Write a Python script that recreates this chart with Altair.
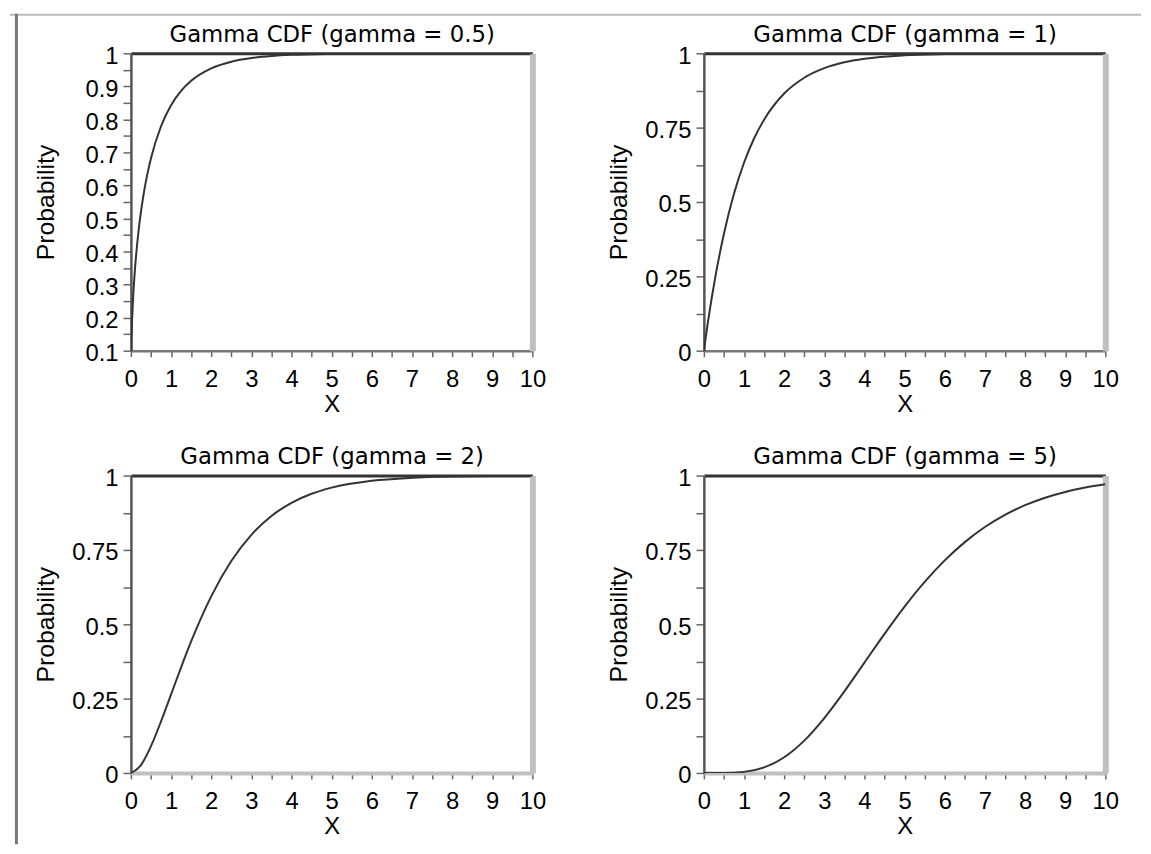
import altair as alt
import pandas as pd

# ---- data ----
x_g05 = [0.008, 0.01, 0.02, 0.05, 0.1, 0.2, 0.3, 0.4, 0.5, 0.75, 1, 1.25, 1.5, 2, 2.5, 3, 3.5, 4, 5, 6, 7, 8, 10]
p_g05 = [0.100, 0.1125, 0.1585, 0.2482, 0.3453, 0.4729, 0.5614, 0.6289, 0.6827, 0.7793, 0.8427, 0.8862,
         0.9167, 0.9545, 0.9747, 0.9857, 0.9918, 0.9953, 0.9984, 0.9995, 0.9998, 0.9999, 1.0]

x_g1 = [0, 0.1, 0.2, 0.3, 0.5, 0.75, 1, 1.25, 1.5, 2, 2.5, 3, 3.5, 4, 5, 6, 7, 8, 10]
p_g1 = [0, 0.0952, 0.1813, 0.2592, 0.3935, 0.5276, 0.6321, 0.7135, 0.7769, 0.8647, 0.9179, 0.9502,
        0.9698, 0.9817, 0.9933, 0.9975, 0.9991, 0.9997, 1.0]

x_g2 = [0, 0.25, 0.5, 0.75, 1, 1.25, 1.5, 2, 2.5, 3, 3.5, 4, 4.5, 5, 6, 7, 8, 9, 10]
p_g2 = [0, 0.0265, 0.0902, 0.1733, 0.2642, 0.3554, 0.4422, 0.5940, 0.7127, 0.8009, 0.8641, 0.9084,
        0.9389, 0.9596, 0.9826, 0.9927, 0.9970, 0.9988, 0.9995]

x_g5 = [0, 0.5, 1, 1.5, 2, 2.5, 3, 3.5, 4, 4.5, 5, 5.5, 6, 6.5, 7, 7.5, 8, 8.5, 9, 9.5, 10]
p_g5 = [0, 0.0002, 0.0037, 0.0186, 0.0527, 0.1088, 0.1847, 0.2746, 0.3712, 0.4679, 0.5595, 0.6425,
        0.7149, 0.7763, 0.8270, 0.8679, 0.9004, 0.9256, 0.9450, 0.9597, 0.9707]

titles = ["Gamma CDF (gamma = 0.5)", "Gamma CDF (gamma = 1)", "Gamma CDF (gamma = 2)", "Gamma CDF (gamma = 5)"]

x_ticks = [0, 0.5, 1, 1.5, 2, 2.5, 3, 3.5, 4, 4.5, 5, 5.5, 6, 6.5, 7, 7.5, 8, 8.5, 9, 9.5, 10]
y_ticks_a = [0.1, 0.15, 0.2, 0.25, 0.3, 0.35, 0.4, 0.45, 0.5, 0.55, 0.6, 0.65, 0.7, 0.75, 0.8, 0.85, 0.9, 0.95, 1.0]
y_ticks_b = [0, 0.125, 0.25, 0.375, 0.5, 0.625, 0.75, 0.875, 1.0]

W, H = 405, 300
LABEL_FONT = "Liberation Sans"


def panel(xs, ys, title, ydom, yticks, yexpr, bottom_color, bottom_width, frame=False):
    df = pd.DataFrame({"x": xs, "p": ys})
    xscale = alt.Scale(domain=[0, 10], nice=False, zero=False)
    yscale = alt.Scale(domain=ydom, nice=False, zero=False)
    xaxis = alt.Axis(
        values=x_ticks,
        labelExpr="datum.value % 1 == 0 ? format(datum.value, 'd') : ''",
        title="X", titleFont=LABEL_FONT, titleFontSize=24, titleFontWeight="normal",
        titleColor="#000", titleY=61, titleBaseline="alphabetic",
        labelFont=LABEL_FONT, labelFontSize=24, labelColor="#000",
        labelBaseline="alphabetic", labelPadding=30, labelOverlap=False, labelFlush=False,
        tickSize=6, tickColor="#666", tickWidth=1.5,
        domainColor=bottom_color, domainWidth=bottom_width, grid=False,
    )
    yaxis = alt.Axis(
        values=yticks, labelExpr=yexpr,
        title="Probability", titleFont=LABEL_FONT, titleFontSize=25, titleFontWeight="normal",
        titleColor="#000", titleX=-78, titleBaseline="alphabetic",
        labelFont=LABEL_FONT, labelFontSize=24, labelColor="#000",
        labelBaseline="middle", labelOffset=3, labelPadding=5, labelOverlap=False, labelFlush=False,
        tickSize=8, tickColor="#666", tickWidth=1.5,
        domainColor="#555", domainWidth=2.5, grid=False,
    )
    # top axis: carries the panel title and the dark top frame line
    top_axis = alt.Axis(
        orient="top", ticks=False, labels=False, grid=False,
        domainColor="#333333", domainWidth=3,
        title=title, titleFont="DejaVu Sans", titleFontSize=23, titleFontWeight="normal",
        titleColor="#000", titleY=-12, titleBaseline="alphabetic",
    )
    # right axis: the light grey right frame line
    right_axis = alt.Axis(
        orient="right", ticks=False, labels=False, grid=False,
        domainColor="#c0c0c0", domainWidth=6, title=None,
    )
    line = alt.Chart(df).mark_line(
        color="#333333", strokeWidth=2, interpolate="monotone", clip=True
    ).encode(
        x=alt.X("x:Q", scale=xscale, axis=xaxis),
        y=alt.Y("p:Q", scale=yscale, axis=yaxis),
    )
    frame_layer = alt.Chart(df).mark_line(strokeOpacity=0, clip=True).encode(
        x=alt.X("x:Q", scale=xscale, axis=top_axis),
        y=alt.Y("p:Q", scale=yscale, axis=right_axis),
    )
    layers = [line, frame_layer]
    if frame:
        one = alt.Data(values=[{}])
        frame_top = alt.Chart(one).mark_rule(color="#bbbbbb", strokeWidth=2).encode(
            x=alt.value(-122), x2=alt.value(1019), y=alt.value(-39)
        )
        frame_left = alt.Chart(one).mark_rule(color="#777777", strokeWidth=3).encode(
            x=alt.value(-115.5), y=alt.value(-40), y2=alt.value(798)
        )
        layers += [frame_top, frame_left]
    return alt.layer(*layers).resolve_axis(x="independent", y="independent").properties(
        width=W, height=H
    )


expr_a = "abs(datum.value * 10 - round(datum.value * 10)) < 0.001 ? format(datum.value, '.1~f') : ''"
expr_b = "abs(datum.value * 4 - round(datum.value * 4)) < 0.001 ? format(datum.value, '~g') : ''"

p1 = panel(x_g05, p_g05, titles[0], [0.1, 1.0], y_ticks_a, expr_a, "#777777", 2.5, frame=True)
p2 = panel(x_g1, p_g1, titles[1], [0, 1.0], y_ticks_b, expr_b, "#777777", 2.5)
p3 = panel(x_g2, p_g2, titles[2], [0, 1.0], y_ticks_b, expr_b, "#c0c0c0", 4)
p4 = panel(x_g5, p_g5, titles[3], [0, 1.0], y_ticks_b, expr_b, "#c0c0c0", 4)

chart = alt.concat(
    p1, p2, p3, p4, columns=2, spacing={"row": 126, "column": 173}, bounds="flush"
).properties(padding=0).configure_view(stroke="transparent")

chart.save("out.html", embed_options={"renderer": "svg", "actions": False})
